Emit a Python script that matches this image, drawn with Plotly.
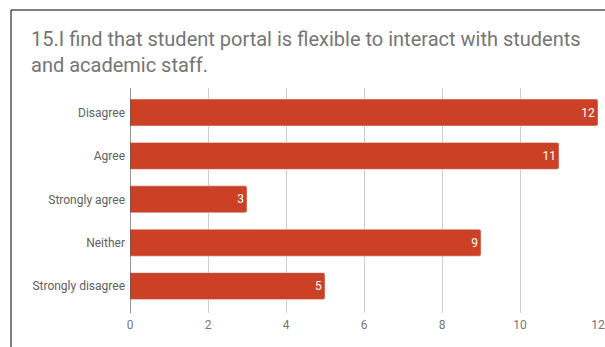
import plotly.graph_objects as go

# Survey responses, listed top to bottom
categories = ["Disagree", "Agree", "Strongly agree", "Neither", "Strongly disagree"]
counts = [12, 11, 3, 9, 5]
x_ticks = [0, 2, 4, 6, 8, 10, 12]

title_text = ("15.I find that student portal is flexible to interact with students"
              "<br>and academic staff.")

W, H = 605, 347
L, R, T, B = 130, 7, 88, 34
pw, ph = W - L - R, H - T - B


def px_x(p):
    return (p - L) / pw


def px_y(p):
    return (H - B - p) / ph


fig = go.Figure(
    go.Bar(
        x=counts,
        y=categories,
        orientation="h",
        marker=dict(color="#cc4125", cornerradius=2),
        text=[str(v) for v in counts],
        textposition="inside",
        insidetextanchor="end",
        textfont=dict(family="Roboto", size=12, color="#ffffff"),
        hoverinfo="skip",
        cliponaxis=False,
    )
)

fig.update_layout(
    width=W,
    height=H,
    margin=dict(l=L, r=R, t=T, b=B, pad=0),
    paper_bgcolor="white",
    plot_bgcolor="white",
    bargap=0.38,
    showlegend=False,
    font=dict(family="Roboto", color="#757575"),
    xaxis=dict(
        range=[0, 12],
        tickvals=x_ticks,
        ticktext=[str(t) for t in x_ticks],
        showgrid=True,
        gridcolor="#cccccc",
        gridwidth=1,
        zeroline=False,
        showline=False,
        tickfont=dict(family="Roboto", size=12, color="#757575"),
        ticks="",
        ticklabelstandoff=3,
        automargin=False,
        fixedrange=True,
    ),
    yaxis=dict(
        type="category",
        categoryorder="array",
        categoryarray=categories,
        range=[4.62, -0.565],
        showgrid=False,
        zeroline=False,
        showline=False,
        ticks="",
        ticklabelstandoff=4,
        tickfont=dict(family="Roboto", size=12, color="#616161"),
        automargin=False,
        fixedrange=True,
    ),
    annotations=[
        dict(
            text=title_text,
            xref="paper", yref="paper",
            x=px_x(29), y=px_y(25),
            xanchor="left", yanchor="top",
            align="left",
            showarrow=False,
            font=dict(family="Roboto", size=20, color="#757575"),
        )
    ],
    shapes=[
        # baseline at zero
        dict(type="line", xref="x", yref="paper", x0=0, x1=0, y0=0, y1=1,
             line=dict(color="#333333", width=1)),
        # frame edges around the chart
        dict(type="line", xref="paper", yref="paper",
             x0=px_x(11), x1=px_x(11), y0=px_y(10), y1=px_y(350),
             line=dict(color="#000000", width=1)),
        dict(type="line", xref="paper", yref="paper",
             x0=px_x(11), x1=px_x(610), y0=px_y(10), y1=px_y(10),
             line=dict(color="#000000", width=1)),
    ],
)

fig.write_html("out.html")
